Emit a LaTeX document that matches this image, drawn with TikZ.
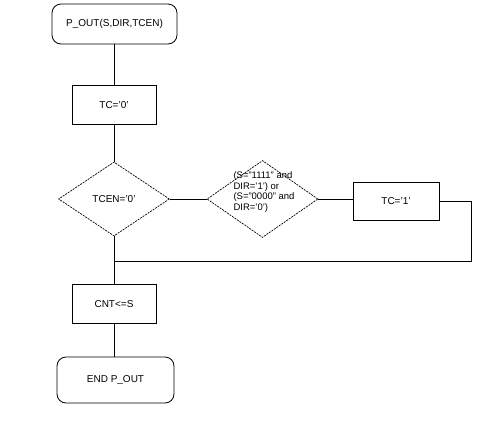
\documentclass[tikz,border=0pt]{standalone}
\usepackage{fontspec}
\setmainfont{Liberation Sans}
\usetikzlibrary{shapes.geometric}
\begin{document}
\begin{tikzpicture}[x=1pt,y=-1pt,
  every node/.style={font=\fontsize{10}{12}\selectfont},
  flow/.style={line width=0.8pt},
  term/.style={draw, line width=0.8pt, rounded corners=9pt, inner sep=0pt},
  proc/.style={draw, line width=0.8pt, inner sep=0pt, minimum width=84pt, minimum height=39pt},
  decide/.style={draw, diamond, dash pattern=on 2pt off 1pt, line width=0.7pt, inner sep=0pt, minimum width=111pt},
  smalltxt/.style={font=\fontsize{9.5}{10.5}\selectfont, align=left, inner sep=0pt}
]
\useasboundingbox (0,0) rectangle (499,432);

% terminals
\node[term, minimum width=125pt, minimum height=40pt] (start) at (114.5,24) {P\_OUT(S,DIR,TCEN)};
\node[term, minimum width=117pt, minimum height=46pt] (stop) at (115.5,380) {END P\_OUT};

% processing steps
\node[proc] (tc0) at (114,105) {TC='0'};
\node[proc] (cnt) at (114,304) {CNT<=S};
\node[proc, minimum width=86pt, minimum height=38pt] (tc1) at (396,201) {TC='1'};

% decisions
\node[decide, minimum height=74pt] (d1) at (114,199) {};
\node at (d1.center) {TCEN='0'};
\node[decide, minimum height=77pt] (d2) at (262.5,199) {};
\node[smalltxt] (d2txt) at (264,192) {(S="1111" and\\DIR='1') or\\(S="0000" and\\DIR='0')};

% return path of the inner loop
\coordinate (rc) at (471,261);
\coordinate (jn) at (114,261);

% connectors
\draw[flow] (start.south -| tc0.north) -- (tc0.north);
\draw[flow] (tc0.south) -- (d1.north);
\draw[flow] (d1.east) -- (d2.west);
\draw[flow] (d2.east) -- (d2.east -| tc1.west);
\draw[flow] (tc1.east) -| (rc) -- (jn);
\draw[flow] (d1.south) -- (cnt.north);
\draw[flow] (cnt.south) -- (cnt.south |- stop.north);
\end{tikzpicture}
\end{document}
